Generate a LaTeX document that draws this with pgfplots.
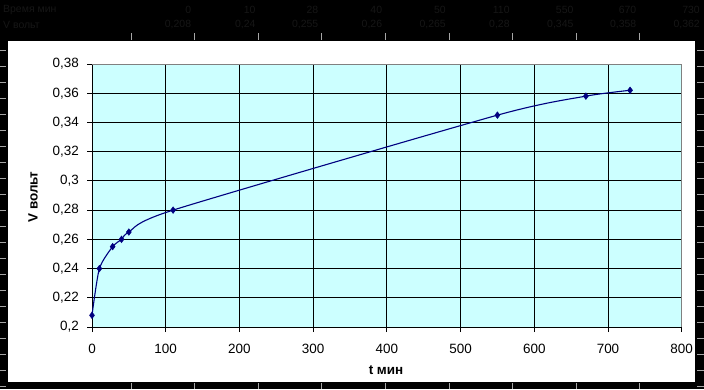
\documentclass[border=0pt]{standalone}
\usepackage{fontspec}
\setmainfont{Liberation Sans}
\usepackage{pgfplots}
\pgfplotsset{compat=1.18}
\definecolor{plotbg}{HTML}{CCFFFF}
\definecolor{navy}{HTML}{000080}
\definecolor{dim}{HTML}{161616}
\begin{document}
\begin{tikzpicture}[x=1bp,y=1bp]
\useasboundingbox (0,0) rectangle (704,389);
\fill[black] (0,0) rectangle (704,389);
\fill[white] (8,7) rectangle (695,348);
\foreach \x in {131.7,194.3,258.6,321.5,385.3,449,512.8,576.6,639.4} {
  \draw[gray!70, line width=0.8bp] (\x,349) -- (\x,356);
  \draw[gray!70, line width=0.8bp] (\x,0) -- (\x,6);
}
\foreach \y in {3,19,...,339} {
  \draw[gray!70, line width=0.8bp] (0,\y) -- (6,\y);
  \draw[gray!70, line width=0.8bp] (697,\y) -- (704,\y);
}
\begin{scope}[every node/.style={text=dim, font=\fontsize{10.5}{12}\selectfont, inner sep=0pt}]
\node[anchor=west] at (3,379) {Время мин};
\node[anchor=west] at (3,364) {V вольт};
\foreach \x/\t/\v in {191.3/0/0{,}208, 255.6/10/0{,}24, 318.5/28/0{,}255, 382.3/40/0{,}26, 446/50/0{,}265, 509.8/110/0{,}28, 573.6/550/0{,}345, 636.4/670/0{,}358, 700/730/0{,}362} {
  \node[anchor=east] at (\x,379) {\t};
  \node[anchor=east] at (\x,364) {\v};
}
\end{scope}
\begin{axis}[
  at={(92bp,62bp)}, anchor=south west,
  scale only axis, width=589.7bp, height=263bp,
  xmin=0, xmax=800, ymin=0.2, ymax=0.38,
  xtick={0,100,200,300,400,500,600,700,800},
  ytick={0.2,0.22,0.24,0.26,0.28,0.3,0.32,0.34,0.36,0.38},
  /pgf/number format/.cd, use comma, fixed, precision=2, assume math mode=true,
  /pgfplots/.cd,
  axis lines*=left,
  axis line style={black, line width=0.8bp},
  tick style={black, line width=0.8bp},
  tick align=outside, major tick length=5bp,
  grid=major,
  major grid style={black, line width=0.8bp},
  axis background/.style={fill=plotbg},
  yticklabel style={font=\fontsize{13.5}{15}\selectfont, inner sep=0pt, anchor=east, xshift=-8bp},
  xticklabel style={font=\fontsize{13.5}{15}\selectfont, inner sep=0pt, anchor=north, yshift=-11.5bp},
  xlabel={\textbf{t мин}}, ylabel={\textbf{V вольт}},
  every axis x label/.style={at={(axis description cs:0.4986,-0.1635)}, anchor=center, font=\fontsize{13.5}{15}\selectfont},
  every axis y label/.style={at={(axis description cs:-0.100,0.494)}, anchor=center, rotate=90, font=\fontsize{13.5}{15}\selectfont},
  clip=false,
  after end axis/.code={\draw[gray, line width=0.8bp] (rel axis cs:0,1) -- (rel axis cs:1,1) -- (rel axis cs:1,0);},
]
\addplot[navy, line width=1.1bp, smooth, tension=0.4, mark=diamond*, mark size=3.3bp, mark options={fill=navy, draw=navy, line width=0.5bp}]
coordinates {(0,0.208) (10,0.24) (28,0.255) (40,0.26) (50,0.265) (110,0.28) (550,0.345) (670,0.358) (730,0.362)};
\end{axis}
\end{tikzpicture}
\end{document}
